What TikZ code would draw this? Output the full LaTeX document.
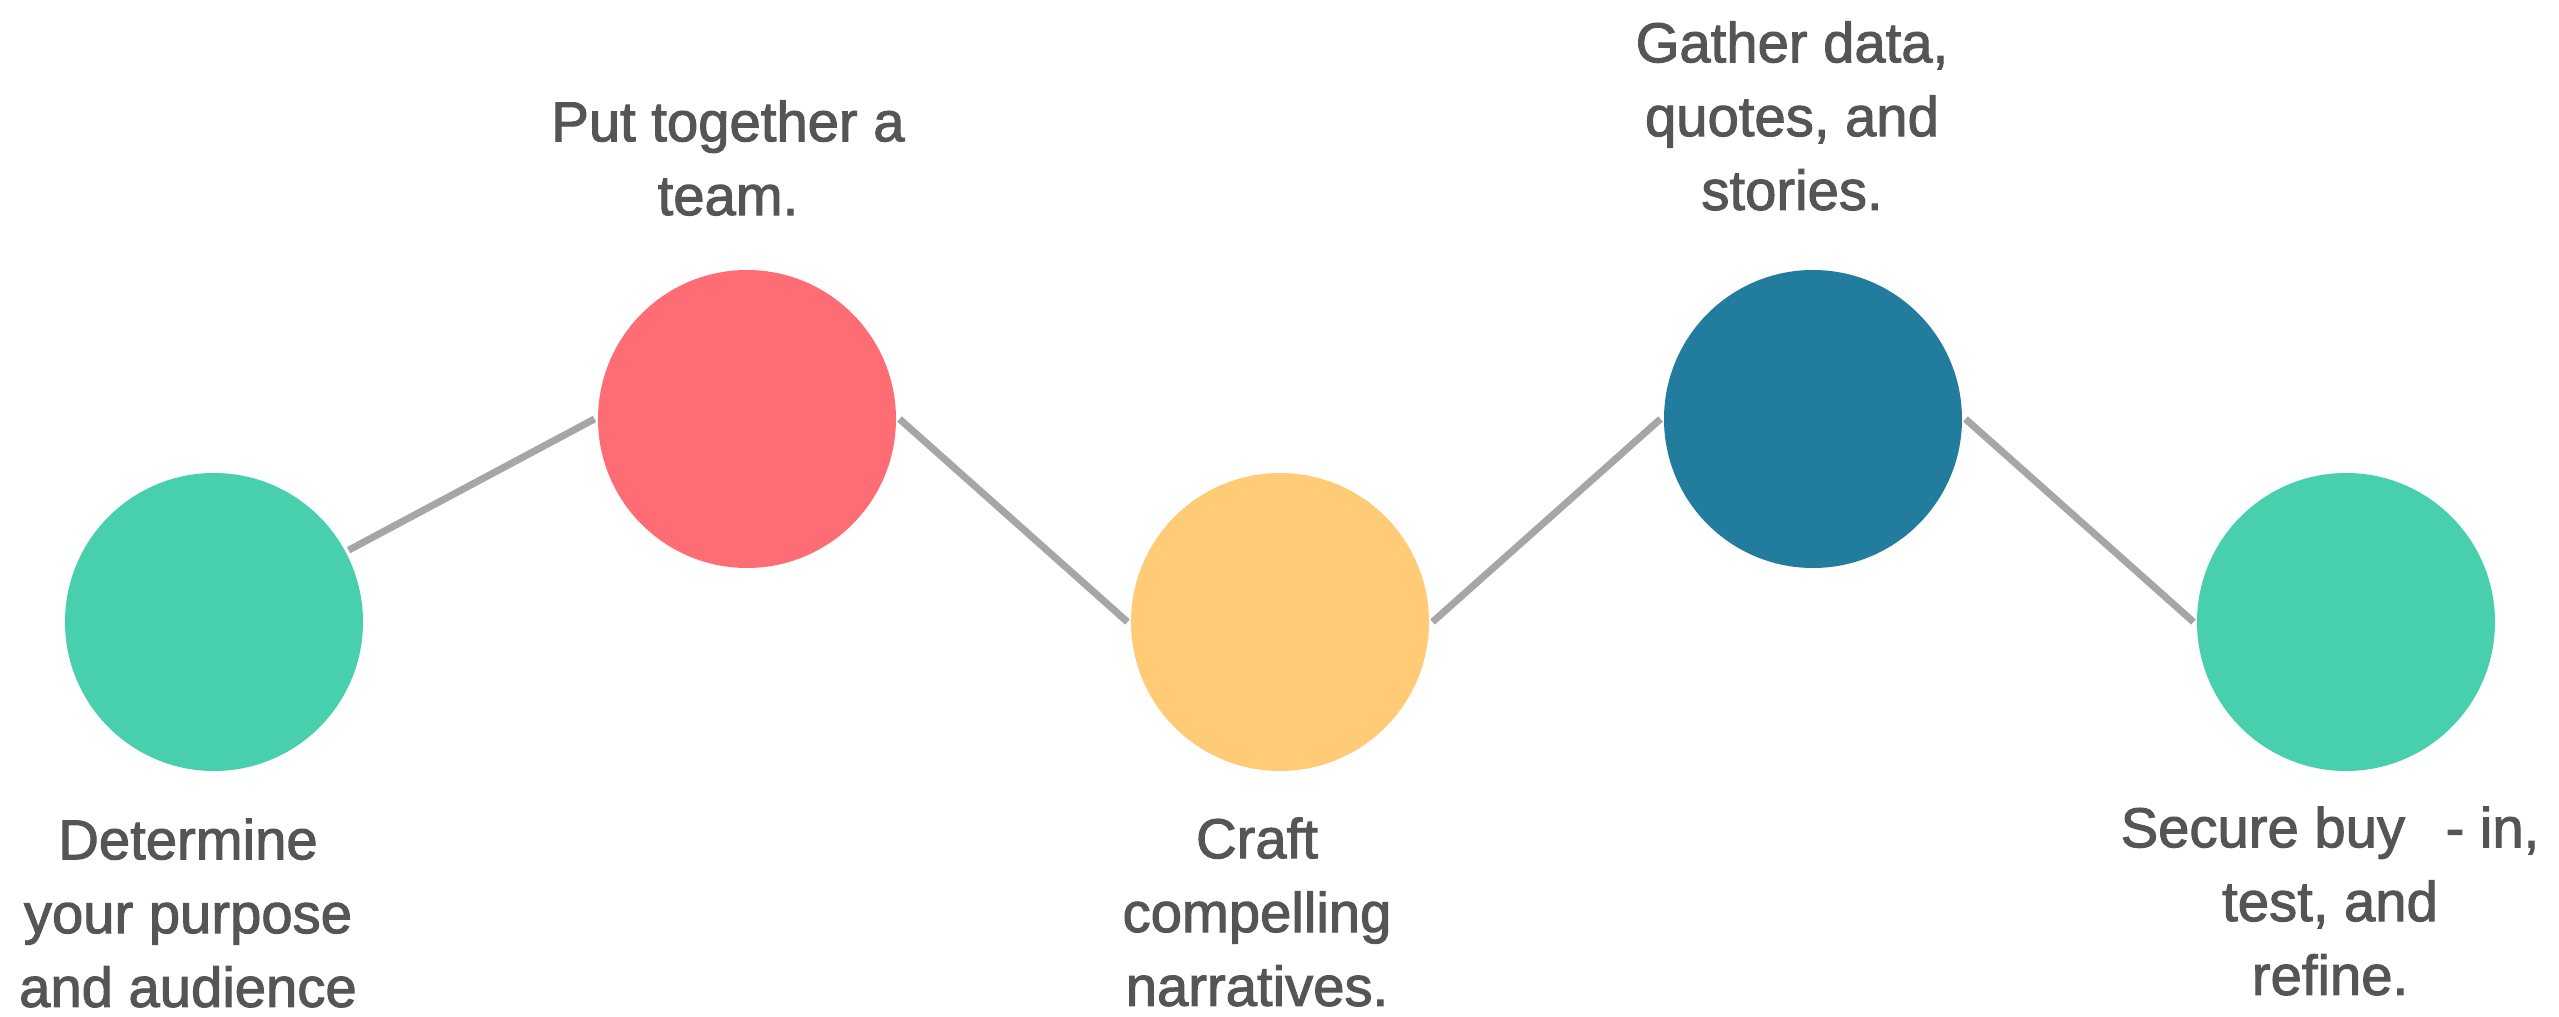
\documentclass[tikz,border=0pt]{standalone}
\usepackage{fontspec}
\setmainfont{Liberation Sans}
\newfontfamily\capfont[FakeBold=1.8]{Liberation Sans}
\usetikzlibrary{positioning}

\definecolor{stepteal}{HTML}{48CFAE}
\definecolor{stepcoral}{HTML}{FF6D74}
\definecolor{stepgold}{HTML}{FFCB77}
\definecolor{stepblue}{HTML}{227C9D}
\definecolor{linkgray}{HTML}{A6A6A6}
\definecolor{textgray}{HTML}{555555}

\begin{document}
\begin{tikzpicture}[node distance = 5.33cm, % distance between circles
                line width = 2pt % line style
            ]

            \tikzstyle{every node}=[inner sep = 0pt]
            \tikzstyle{dot}=[circle, minimum size = 2.98cm]
            \tikzstyle{caption}=[anchor = north, align = center, text = textgray,
            font = \capfont\fontsize{16}{21}\selectfont]
            \tikzstyle{link}=[draw = linkgray]

            \useasboundingbox[fill = white] (0,0) rectangle (25.59,-10.17);

            \node[dot, fill = stepteal] (1) at (2.14,-6.22) {};
            \node[dot, fill = stepcoral] (2) [right of=1, yshift = 2.03cm] {};
            \node[dot, fill = stepgold] (3) [right of=2, yshift = -2.03cm] {};
            \node[dot, fill = stepblue] (4) [right of=3, yshift = 2.03cm] {};
            \node[dot, fill = stepteal] (5) [right of=4, yshift = -2.03cm] {};

            \path[link] (1) edge (2.west); \path[link] (2.east) edge (3.west);
            \path[link] (3.east) edge (4.west); \path[link] (4.east) edge
            (5.west);

            \node[caption] (t1) at (1.88,-8.15) {Determine\\your purpose\\and audience};
            \node[caption] (t2) at (7.28,-0.97) {Put together a\\team.};
            \node[caption] (t3) at (12.57,-8.14) {Craft\\compelling\\narratives.};
            \node[caption] (t4) at (17.92,-0.18) {Gather data,\\quotes, and\\stories.};
            \node[caption] (t5) at (23.30,-8.03) {Secure buy\hspace{0.72em}- in,\\test, and\\refine.};
        \end{tikzpicture}
\end{document}
